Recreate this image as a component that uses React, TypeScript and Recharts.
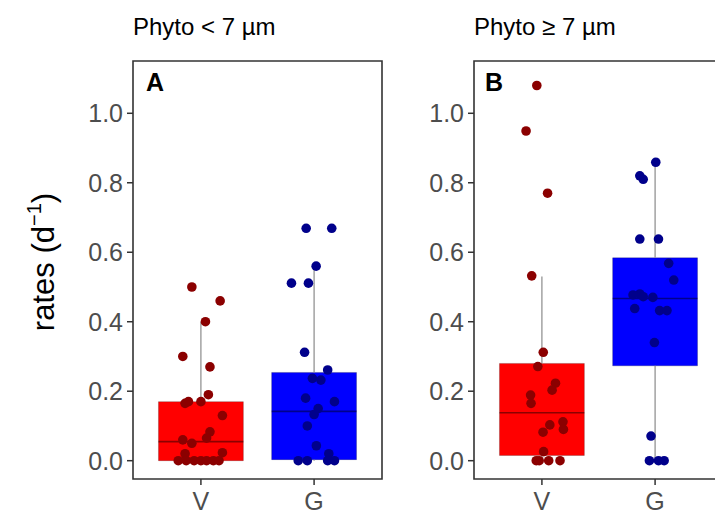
import React from "react";
import {
  ComposedChart,
  Scatter,
  XAxis,
  YAxis,
  ReferenceArea,
  ReferenceLine,
} from "recharts";

// ---- categories & ticks ----
const categories = ["V", "G"];
const catPos = [1, 2];
const yTicks = [0, 0.2, 0.4, 0.6, 0.8, 1.0];
const panelTitles = ["Phyto < 7 µm", "Phyto ≥ 7 µm"];
const panelLetters = ["A", "B"];

// ---- Panel A (Phyto < 7 µm) points ----
const aVValues = [0.5, 0.46, 0.4, 0.3, 0.27, 0.19, 0.17, 0.165, 0.17, 0.13, 0.083, 0.065, 0.06, 0.05, 0.02, 0.023, 0, 0, 0, 0, 0, 0, 0];
const aVJitter = [-0.08, 0.17, 0.04, -0.16, 0.08, 0.066, -0.11, -0.14, 0.0, 0.19, 0.08, 0.05, -0.16, -0.08, -0.14, 0.19, -0.2, -0.13, -0.06, 0.0, 0.05, 0.11, 0.16];
const aGValues = [0.669, 0.669, 0.56, 0.511, 0.511, 0.312, 0.261, 0.237, 0.232, 0.18, 0.17, 0.15, 0.133, 0.1, 0.043, 0.02, 0, 0, 0, 0];
const aGJitter = [-0.07, 0.156, 0.018, -0.2, -0.05, -0.084, 0.12, -0.015, 0.06, -0.075, 0.18, 0.036, 0.0, -0.06, 0.02, 0.13, -0.14, -0.06, 0.12, 0.18];

// ---- Panel B (Phyto ≥ 7 µm) points ----
const bVValues = [1.08, 0.949, 0.77, 0.532, 0.312, 0.271, 0.223, 0.203, 0.189, 0.165, 0.112, 0.09, 0.103, 0.082, 0.026, 0, 0, 0, 0];
const bVJitter = [-0.045, -0.14, 0.05, -0.09, 0.012, -0.036, 0.12, 0.09, -0.1, -0.096, 0.186, 0.19, 0.07, 0.01, 0.015, -0.024, 0.06, 0.16, -0.05];
const bGValues = [0.859, 0.82, 0.81, 0.638, 0.638, 0.568, 0.52, 0.48, 0.477, 0.472, 0.47, 0.438, 0.432, 0.432, 0.34, 0.071, 0, 0, 0];
const bGJitter = [0.006, -0.135, -0.105, -0.135, 0.03, 0.12, 0.165, -0.135, -0.195, -0.105, -0.02, -0.18, 0.04, 0.105, -0.006, -0.036, -0.05, 0.03, 0.08];

// ---- box statistics [V, G] ----
const aQ1 = [0, 0.003];
const aMedian = [0.055, 0.142];
const aQ3 = [0.17, 0.254];
const aWhiskerLow = [0, 0];
const aWhiskerHigh = [0.4, 0.56];

const bQ1 = [0.015, 0.273];
const bMedian = [0.138, 0.467];
const bQ3 = [0.28, 0.584];
const bWhiskerLow = [0, 0];
const bWhiskerHigh = [0.53, 0.86];

const boxFill = ["#ff0000", "#0000ff"];
const pointFill = ["#8b0000", "#00008b"];

const X_DOMAIN: [number, number] = [0.4, 2.6];
const Y_DOMAIN: [number, number] = [-0.0527, 1.1505];
const BOX_HALF = 0.375;
const FONT = "'Liberation Sans', Arial, sans-serif";

function toPoints(values: number[], jitter: number[], pos: number) {
  return values.map((v, i) => ({ x: pos + jitter[i], y: v }));
}

const dot = (fill: string) => (props: any) => (
  <circle cx={props.cx} cy={props.cy} r={4.8} fill={fill} />
);

type PanelProps = {
  left: number;
  width: number;
  marginRight: number;
  vVals: number[];
  vJit: number[];
  gVals: number[];
  gJit: number[];
  q1: number[];
  med: number[];
  q3: number[];
  wlo: number[];
  whi: number[];
};

function Panel(p: PanelProps) {
  const vPts = toPoints(p.vVals, p.vJit, catPos[0]);
  const gPts = toPoints(p.gVals, p.gJit, catPos[1]);
  return (
    <div style={{ position: "absolute", left: p.left, top: 0 }}>
      <ComposedChart
        width={p.width}
        height={517}
        margin={{ top: 61, right: p.marginRight, bottom: 0, left: 0 }}
      >
        <XAxis
          type="number"
          dataKey="x"
          domain={X_DOMAIN}
          ticks={catPos}
          allowDataOverflow
          tickFormatter={(v: number) => categories[catPos.indexOf(v)] ?? ""}
          height={38}
          axisLine={false}
          tickLine={{ stroke: "#333333", strokeWidth: 1.5 }}
          tickSize={6}
          tickMargin={7}
          tick={{ fill: "#4d4d4d", fontSize: 25, fontFamily: FONT }}
        />
        <YAxis
          type="number"
          dataKey="y"
          domain={Y_DOMAIN}
          ticks={yTicks}
          allowDataOverflow
          tickFormatter={(v: number) => v.toFixed(1)}
          width={133}
          axisLine={false}
          tickLine={{ stroke: "#333333", strokeWidth: 1.5 }}
          tickSize={6}
          tickMargin={4}
          tick={{ fill: "#4d4d4d", fontSize: 25, fontFamily: FONT }}
        />
        {catPos.map((c, i) => (
          <ReferenceLine
            key={"wh" + i}
            segment={[
              { x: c, y: p.q3[i] },
              { x: c, y: p.whi[i] },
            ]}
            stroke="#8a8a8a"
            strokeWidth={1.2}
          />
        ))}
        {catPos.map((c, i) => (
          <ReferenceLine
            key={"wl" + i}
            segment={[
              { x: c, y: p.wlo[i] },
              { x: c, y: p.q1[i] },
            ]}
            stroke="#8a8a8a"
            strokeWidth={1.2}
          />
        ))}
        {catPos.map((c, i) => (
          <ReferenceArea
            key={"box" + i}
            x1={c - BOX_HALF}
            x2={c + BOX_HALF}
            y1={p.q1[i]}
            y2={p.q3[i]}
            fill={boxFill[i]}
            fillOpacity={1}
            stroke="rgba(0,0,0,0.35)"
            strokeWidth={0.6}
          />
        ))}
        {catPos.map((c, i) => (
          <ReferenceLine
            key={"med" + i}
            segment={[
              { x: c - BOX_HALF, y: p.med[i] },
              { x: c + BOX_HALF, y: p.med[i] },
            ]}
            stroke="rgba(0,0,0,0.45)"
            strokeWidth={1.6}
          />
        ))}
        <Scatter
          data={vPts}
          dataKey="y"
          isAnimationActive={false}
          shape={dot(pointFill[0])}
        />
        <Scatter
          data={gPts}
          dataKey="y"
          isAnimationActive={false}
          shape={dot(pointFill[1])}
        />
        <ReferenceArea
          x1={X_DOMAIN[0]}
          x2={X_DOMAIN[1]}
          y1={Y_DOMAIN[0]}
          y2={Y_DOMAIN[1]}
          fill="none"
          stroke="#333333"
          strokeWidth={1.6}
        />
      </ComposedChart>
    </div>
  );
}

export default function App() {
  return (
    <div
      style={{
        position: "absolute",
        left: 0,
        top: 0,
        width: 715,
        height: 517,
        overflow: "hidden",
        background: "#ffffff",
      }}
    >
      <Panel
        left={0}
        width={387}
        marginRight={5}
        vVals={aVValues}
        vJit={aVJitter}
        gVals={aGValues}
        gJit={aGJitter}
        q1={aQ1}
        med={aMedian}
        q3={aQ3}
        wlo={aWhiskerLow}
        whi={aWhiskerHigh}
      />
      <Panel
        left={341}
        width={382}
        marginRight={0}
        vVals={bVValues}
        vJit={bVJitter}
        gVals={bGValues}
        gJit={bGJitter}
        q1={bQ1}
        med={bMedian}
        q3={bQ3}
        wlo={bWhiskerLow}
        whi={bWhiskerHigh}
      />
      <svg
        width={715}
        height={517}
        style={{ position: "absolute", left: 0, top: 0, pointerEvents: "none" }}
      >
        <text x={133} y={35} fontSize={24} fontFamily={FONT} fill="#000">
          {panelTitles[0]}
        </text>
        <text x={474} y={35} fontSize={24} fontFamily={FONT} fill="#000">
          {panelTitles[1]}
        </text>
        <text x={146} y={91} fontSize={25} fontWeight="bold" fontFamily={FONT} fill="#000">
          {panelLetters[0]}
        </text>
        <text x={485} y={91} fontSize={25} fontWeight="bold" fontFamily={FONT} fill="#000">
          {panelLetters[1]}
        </text>
        <text
          transform="translate(54, 262) rotate(-90)"
          textAnchor="middle"
          fontSize={31}
          fontFamily={FONT}
          fill="#000"
        >
          rates (d
          <tspan fontSize={20} dy={-13}>
            −1
          </tspan>
          <tspan dy={13}>)</tspan>
        </text>
      </svg>
    </div>
  );
}
